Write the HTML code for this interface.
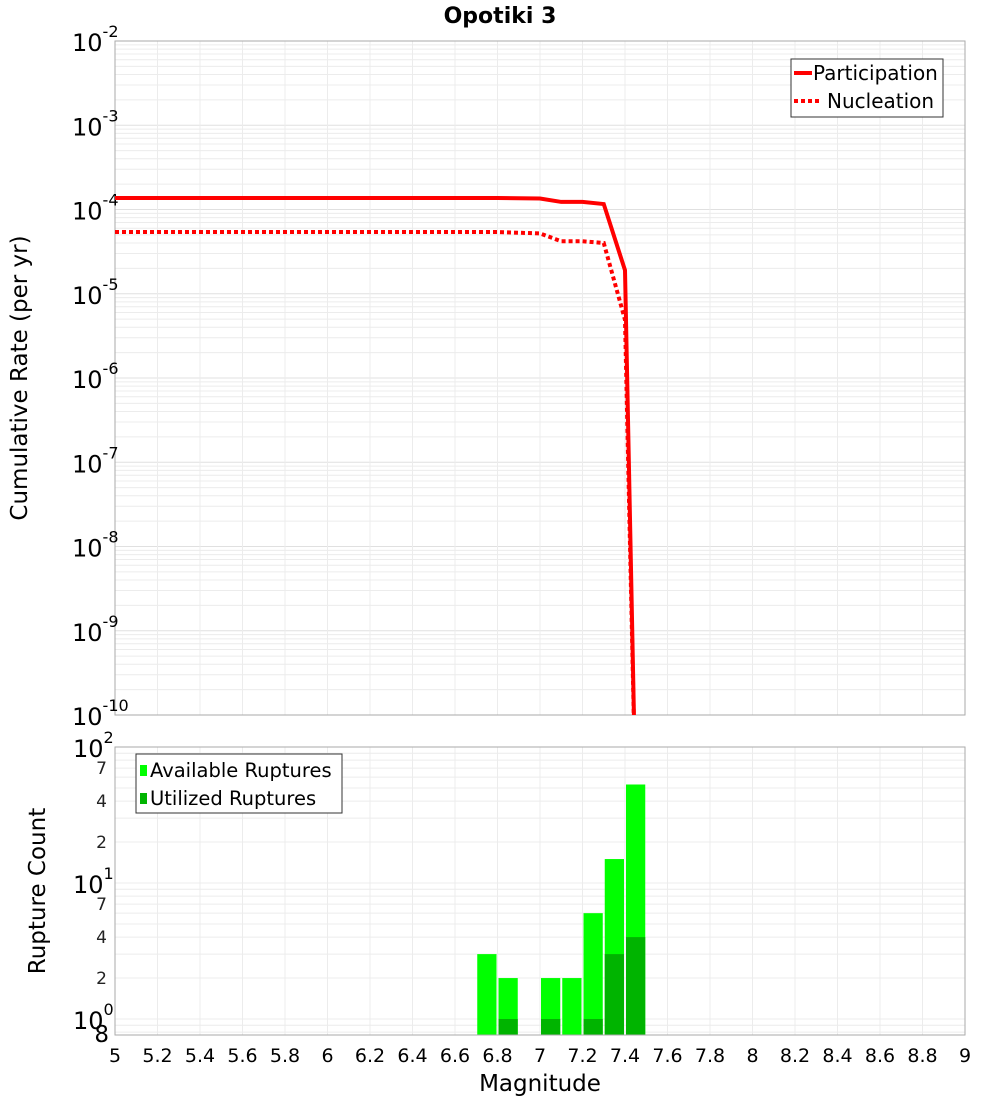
<!DOCTYPE html>
<html><head><meta charset="utf-8"><style>
body{margin:0;background:#fff;font-family:"DejaVu Sans","Liberation Sans",sans-serif}
svg text{font-family:"DejaVu Sans","Liberation Sans",sans-serif}
</style></head><body>
<svg id="c" width="1000" height="1100" xmlns="http://www.w3.org/2000/svg"></svg>
<script>
const mags=[5.0,5.5,6.0,6.5,6.8,7.0,7.1,7.2,7.3,7.4,7.45];
const participation=[1.37e-4,1.37e-4,1.37e-4,1.37e-4,1.37e-4,1.35e-4,1.23e-4,1.23e-4,1.16e-4,1.9e-5,1e-11];
const nucleation=[5.4e-5,5.4e-5,5.4e-5,5.4e-5,5.4e-5,5.2e-5,4.2e-5,4.2e-5,4.0e-5,4.9e-6,1e-11];
const binMags=[6.75,6.85,7.05,7.15,7.25,7.35,7.45];
const available=[3,2,2,2,6,15,53];
const utilized=[0,1,1,0,1,3,4];
const xTicks=[5,5.2,5.4,5.6,5.8,6,6.2,6.4,6.6,6.8,7,7.2,7.4,7.6,7.8,8,8.2,8.4,8.6,8.8,9];
const topDecades=[-2,-3,-4,-5,-6,-7,-8,-9,-10];
const minorCounts=[70,40,20,7,4,2,0.8];
const minorLabels=['7','4','2','7','4','2','8'];

const NS="http://www.w3.org/2000/svg";
const svg=document.getElementById('c');
function mk(tag,attrs,parent){const e=document.createElementNS(NS,tag);for(const k in attrs)e.setAttribute(k,attrs[k]);(parent||svg).appendChild(e);return e;}
const L=115,R=965;
const X=m=>L+(m-5)/4*(R-L);
const T0=41,T1=715;
const YT=v=>T0+(-2-Math.log10(v))*(T1-T0)/8;
const B0=747,B1=1035,BD=136;
const YB=v=>B0+(2-Math.log10(v))*BD;

let t=mk('text',{x:500,y:23,'text-anchor':'middle','font-size':22,'font-weight':'bold'});t.textContent='Opotiki 3';


let g=mk('g',{});
for(let d=-10;d<-2;d++){for(let k=2;k<=9;k++){const y=YT(k*Math.pow(10,d));mk('line',{x1:L,x2:R,y1:y,y2:y,stroke:'#ececec','stroke-width':1},g);}}
topDecades.forEach(d=>{const y=YT(Math.pow(10,d));mk('line',{x1:L,x2:R,y1:y,y2:y,stroke:'#e0e0e0'},g);});
xTicks.forEach(m=>{mk('line',{x1:X(m),x2:X(m),y1:T0,y2:T1,stroke:'#ececec'},g);});
let fr=mk('rect',{x:L,y:T0,width:R-L,height:T1-T0,fill:'none',stroke:'#aaa'});

topDecades.forEach(d=>{const y=YT(Math.pow(10,d));
 const tx=mk('text',{x:72,y:y+10,'font-size':24});tx.textContent='10';
 
 const s=mk('tspan',{dy:-14,'font-size':16},tx);s.textContent=String(d);});
t=mk('text',{x:27,y:378,'text-anchor':'middle','font-size':23,transform:'rotate(-90 27 378)'});t.textContent='Cumulative Rate (per yr)';


const defs=mk('defs',{});
const cp=mk('clipPath',{id:'ct'},defs);mk('rect',{x:L,y:T0,width:R-L,height:T1-T0},cp);
const pp=mags.map((m,i)=>X(m)+','+YT(participation[i])).join(' ');
let pl=mk('polyline',{points:pp,fill:'none',stroke:'#f00','stroke-width':4,'clip-path':'url(#ct)'});

const np=mags.map((m,i)=>X(m)+','+YT(nucleation[i])).join(' ');
let nl=mk('polyline',{points:np,fill:'none',stroke:'#f00','stroke-width':4,'stroke-dasharray':'4 3','clip-path':'url(#ct)'});


let lg=mk('g',{});
mk('rect',{x:791,y:59,width:152,height:58,fill:'#fff',stroke:'#333'},lg);
mk('line',{x1:794,x2:812,y1:73,y2:73,stroke:'#f00','stroke-width':4},lg);
t=mk('text',{x:813,y:80,'font-size':20},lg);t.textContent='Participation';
mk('line',{x1:794,x2:822,y1:101,y2:101,stroke:'#f00','stroke-width':4,'stroke-dasharray':'4 3'},lg);
t=mk('text',{x:827,y:108,'font-size':20},lg);t.textContent='Nucleation';

g=mk('g',{});
for(let d=-1;d<2;d++){for(let k=1;k<=9;k++){const v=k*Math.pow(10,d);const y=YB(v);if(y>B1||y<B0)continue;mk('line',{x1:L,x2:R,y1:y,y2:y,stroke:'#ececec'},g);}}
xTicks.forEach(m=>{mk('line',{x1:X(m),x2:X(m),y1:B0,y2:B1,stroke:'#ececec'},g);});
const bw=(X(0.1)-X(0))-2;
binMags.forEach((m,i)=>{
 const x=X(m)-bw/2;
 const ya=YB(available[i]);
 const r=mk('rect',{x:x,y:ya,width:bw,height:B1-ya,fill:'#00ff00'});
 
 if(utilized[i]>0){const yu=YB(utilized[i]);
  const u=mk('rect',{x:x,y:yu,width:bw,height:B1-yu,fill:'#00b400'});
  }
});
fr=mk('rect',{x:L,y:B0,width:R-L,height:B1-B0,fill:'none',stroke:'#aaa'});

[2,1,0].forEach(d=>{const y=YB(Math.pow(10,d));
 const tx=mk('text',{x:73,y:y+10,'font-size':24});tx.textContent='10';
 
 const s=mk('tspan',{dy:-14,'font-size':16},tx);s.textContent=String(d);});
minorCounts.forEach((v,i)=>{const y=YB(v);
 const tx=mk('text',{x:107,y:y+6,'font-size':17,'text-anchor':'end',fill:'#222'});
 
 tx.textContent=minorLabels[i];
 if(v<1){tx.setAttribute('font-size',23);tx.setAttribute('x',109);tx.setAttribute('y',y+10);tx.setAttribute('fill','#000');}});
t=mk('text',{x:45,y:891,'text-anchor':'middle','font-size':23,transform:'rotate(-90 45 891)'});t.textContent='Rupture Count';

lg=mk('g',{});
mk('rect',{x:136,y:754,width:206,height:59,fill:'#fff',stroke:'#333'},lg);
mk('rect',{x:140,y:765,width:7,height:11,fill:'#00ff00'},lg);
t=mk('text',{x:150,y:777,'font-size':19.5},lg);t.textContent='Available Ruptures';
mk('rect',{x:140,y:793,width:7,height:11,fill:'#00b400'},lg);
t=mk('text',{x:150,y:805,'font-size':19.5},lg);t.textContent='Utilized Ruptures';

xTicks.forEach(m=>{const tx=mk('text',{x:X(m),y:1062,'text-anchor':'middle','font-size':19});
 tx.textContent=String(m);});
t=mk('text',{x:540,y:1091,'text-anchor':'middle','font-size':23});t.textContent='Magnitude';

</script>
</body></html>
